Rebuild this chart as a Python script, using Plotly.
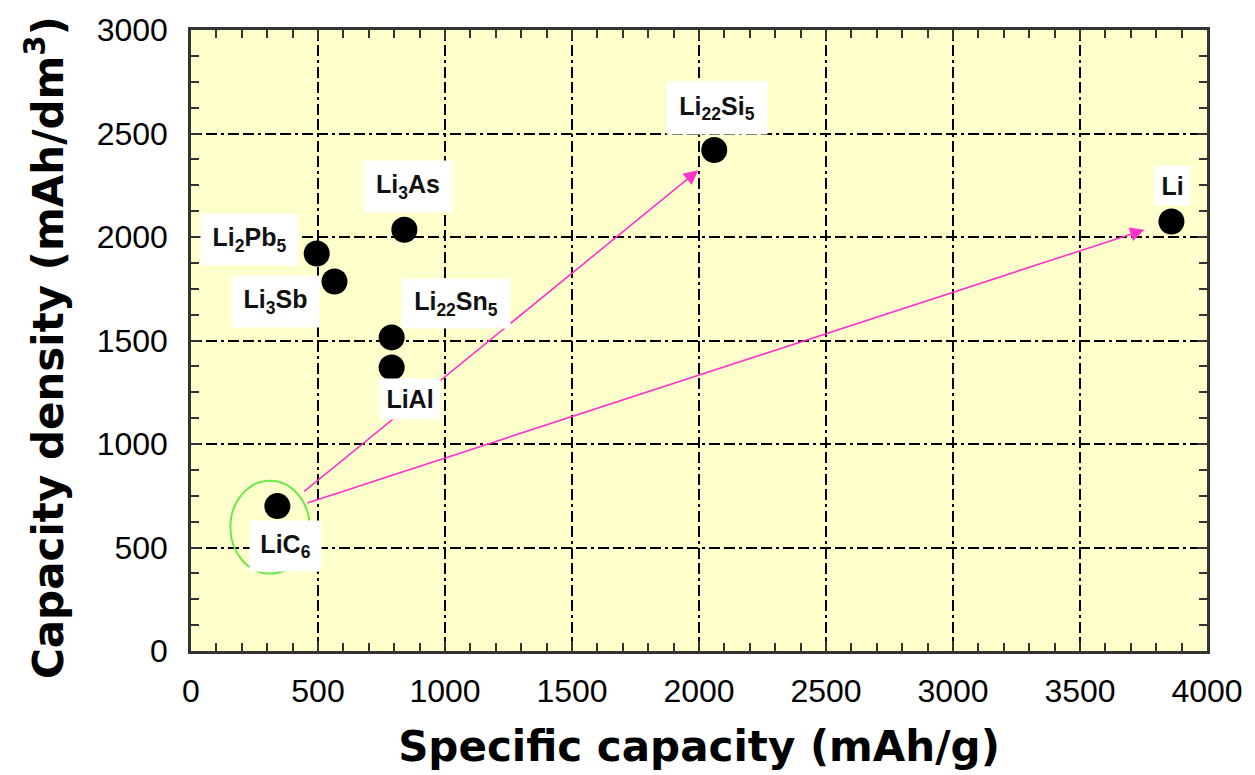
import plotly.graph_objects as go

# Anode materials: specific capacity (mAh/g) vs capacity density (mAh/dm3)
materials = ["LiC<sub>6</sub>", "Li<sub>2</sub>Pb<sub>5</sub>", "Li<sub>3</sub>Sb", "Li<sub>3</sub>As",
             "Li<sub>22</sub>Sn<sub>5</sub>", "LiAl", "Li<sub>22</sub>Si<sub>5</sub>", "Li"]
specific_capacity = [340, 495, 565, 840, 790, 790, 2060, 3860]
capacity_density = [700, 1920, 1785, 2035, 1515, 1370, 2420, 2075]

# Arrows from graphite towards Li22Si5 and Li metal (tail -> head)
arrow_tail_x = [440, 452]
arrow_tail_y = [765, 713]
arrow_head_x = [1997, 3754]
arrow_head_y = [2322, 2035]

x_ticks = [0, 500, 1000, 1500, 2000, 2500, 3000, 3500, 4000]
y_ticks = [0, 500, 1000, 1500, 2000, 2500, 3000]

# label box placement relative to each marker (pixels) and box size
label_offset = [(8, 40), (-67, -14), (-59, 20), (4, -43), (64, -34), (18, 32), (3, -42), (1, -36)]
label_box = [(71, 50), (97, 51), (87, 51), (88, 51), (108, 49), (60, 40), (100, 52), (35, 39)]

TITLE_FONT = "DejaVu Sans"
TEXT_FONT = "Liberation Sans"
PINK = "#FF33CC"

fig = go.Figure()
fig.add_trace(go.Scatter(
    x=specific_capacity, y=capacity_density, mode="markers",
    marker=dict(size=26, color="black"), hoverinfo="skip", showlegend=False,
))

# ellipse around graphite
fig.add_shape(type="circle", xref="x", yref="y", x0=155, x1=467, y0=374, y1=822,
              line=dict(color="#6EE84A", width=2), layer="above")

for tx, ty, hx, hy in zip(arrow_tail_x, arrow_tail_y, arrow_head_x, arrow_head_y):
    fig.add_annotation(x=hx, y=hy, ax=tx, ay=ty, xref="x", yref="y", axref="x", ayref="y",
                       showarrow=True, arrowhead=2, arrowsize=1.8, arrowwidth=1.6,
                       arrowcolor=PINK, text="")

for name, xv, yv, (dx, dy), (w, h) in zip(materials, specific_capacity, capacity_density,
                                           label_offset, label_box):
    fig.add_annotation(x=xv, y=yv, xref="x", yref="y", text="<b>" + name + "</b>", showarrow=False,
                       xshift=dx, yshift=-dy, xanchor="center", yanchor="middle",
                       width=w, height=h, bgcolor="white", borderpad=0,
                       font=dict(family=TEXT_FONT, size=25, color="#111111"))

# vertical axis title, placed as rotated text left of the tick labels
fig.add_annotation(x=-0.143, y=0.489, xref="paper", yref="paper", showarrow=False,
                   text="<b>Capacity density (mAh/dm<sup>3</sup>)</b>", textangle=-90,
                   xanchor="center", yanchor="middle",
                   font=dict(family=TITLE_FONT, size=42, color="black"))

grid = dict(showgrid=True, gridcolor="black", gridwidth=1.8, griddash="11px,4px,11px,4px,3px,4px")
axis_common = dict(
    showline=True, linecolor="#333333", linewidth=2.5, mirror="allticks",
    ticks="inside", ticklen=10, tickwidth=2, tickcolor="#333333",
    tickfont=dict(family=TEXT_FONT, size=32, color="black"),
    zeroline=False, **grid,
)

fig.update_xaxes(range=[0, 4000], tickvals=x_ticks, ticklabelstandoff=10,
                 minor=dict(dtick=100, ticks="inside", ticklen=8, tickwidth=2, tickcolor="#333333",
                            showgrid=False),
                 title=dict(text="<b>Specific capacity (mAh/g)</b>", standoff=24,
                            font=dict(family=TITLE_FONT, size=42, color="black")),
                 **axis_common)
fig.update_yaxes(range=[0, 3000], tickvals=y_ticks, ticklabelstandoff=14,
                 minor=dict(dtick=125, ticks="inside", ticklen=8, tickwidth=2, tickcolor="#333333",
                            showgrid=False),
                 **axis_common)

fig.update_layout(
    width=1255, height=775,
    margin=dict(l=191, r=44, t=27, b=122),
    paper_bgcolor="white", plot_bgcolor="#FFFFCC",
    showlegend=False,
)

fig.write_html("out.html")
